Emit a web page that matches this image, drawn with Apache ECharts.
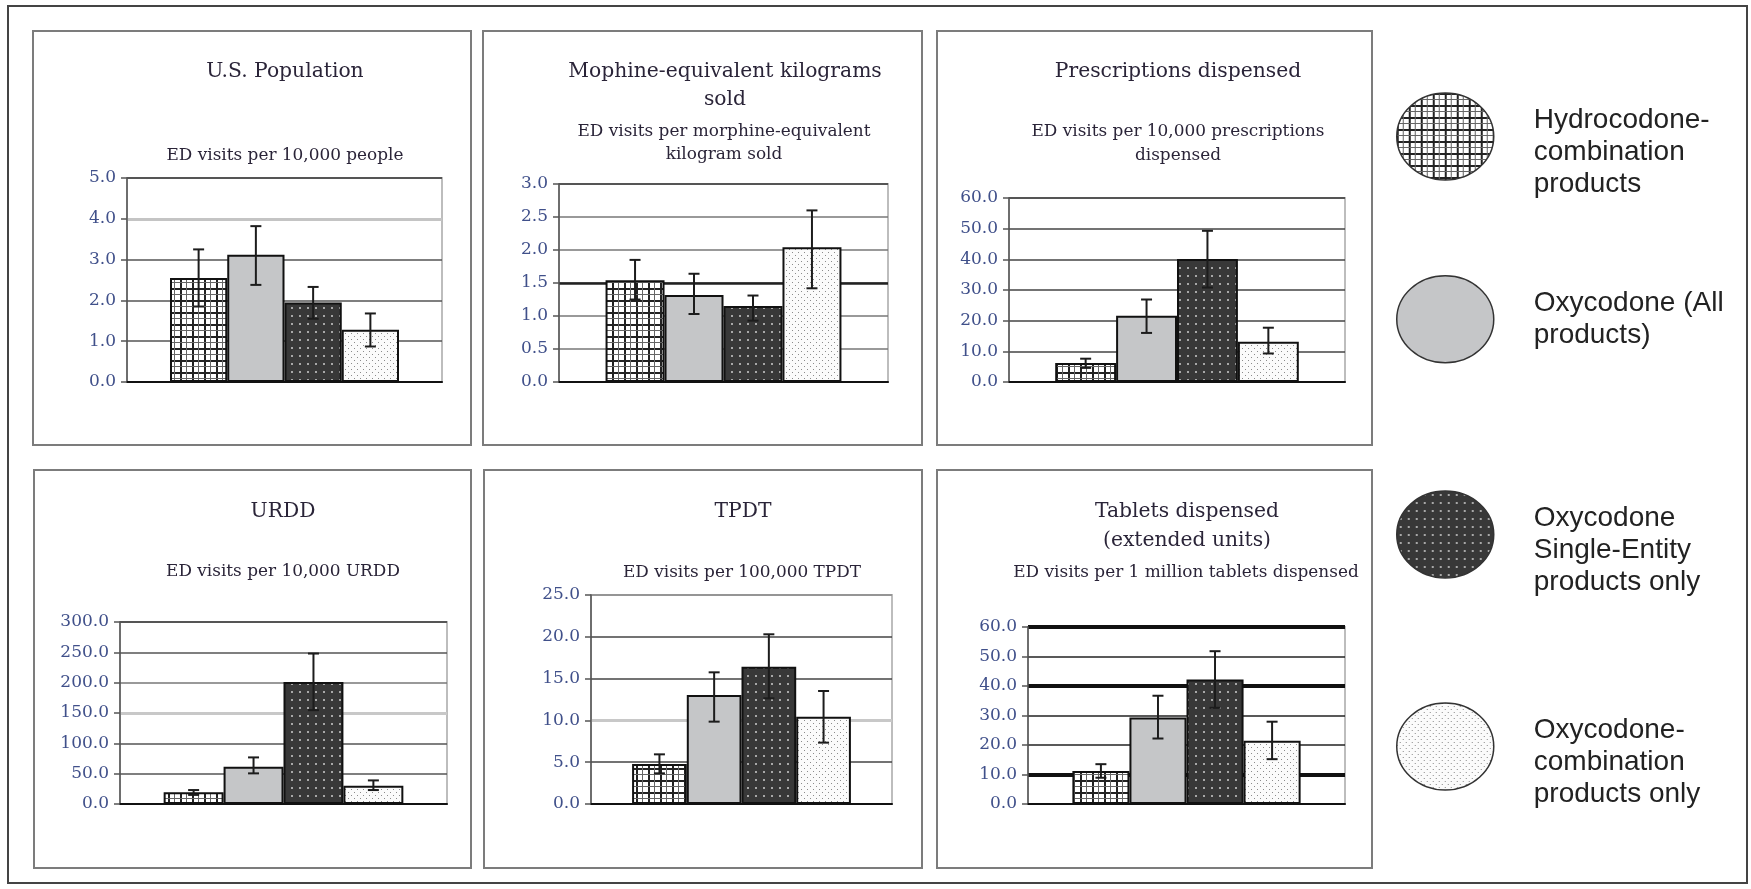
<!DOCTYPE html>
<html>
<head>
<meta charset="utf-8">
<script src="https://cdn.jsdelivr.net/npm/echarts@6/dist/echarts.min.js"></script>
<style>html,body{margin:0;padding:0;background:#fff}#c{width:1751px;height:889px}</style>
</head>
<body>
<div id="c"></div>
<script>
// ---------------- DATA ----------------
const seriesNames = [
  'Hydrocodone-combination products',
  'Oxycodone (All products)',
  'Oxycodone Single-Entity products only',
  'Oxycodone-combination products only'
];
const legendLabels = [
  'Hydrocodone-\ncombination\nproducts',
  'Oxycodone (All\nproducts)',
  'Oxycodone\nSingle-Entity\nproducts only',
  'Oxycodone-\ncombination\nproducts only'
];
const categories = [''];
const panelTitles = [
  'U.S. Population',
  'Mophine-equivalent kilograms\nsold',
  'Prescriptions dispensed',
  'URDD',
  'TPDT',
  'Tablets dispensed\n(extended units)'
];
const panelSubtitles = [
  'ED visits per 10,000 people',
  'ED visits per morphine-equivalent\nkilogram sold',
  'ED visits per 10,000 prescriptions\ndispensed',
  'ED visits per 10,000 URDD',
  'ED visits per 100,000 TPDT',
  'ED visits per 1 million tablets dispensed'
];

// U.S. Population
const popValues = [2.55, 3.12, 1.95, 1.28];
const popLow    = [1.85, 2.38, 1.55, 0.87];
const popHigh   = [3.25, 3.82, 2.33, 1.68];
const popTicks  = ['0.0','1.0','2.0','3.0','4.0','5.0'];
// Morphine-equivalent kilograms sold
const mekValues = [1.54, 1.32, 1.15, 2.04];
const mekLow    = [1.25, 1.03, 0.93, 1.42];
const mekHigh   = [1.85, 1.64, 1.31, 2.60];
const mekTicks  = ['0.0','0.5','1.0','1.5','2.0','2.5','3.0'];
// Prescriptions dispensed
const rxValues = [6.2, 21.6, 40.1, 13.1];
const rxLow    = [4.6, 16.0, 30.8, 9.3];
const rxHigh   = [7.6, 26.9, 49.3, 17.7];
const rxTicks  = ['0.0','10.0','20.0','30.0','40.0','50.0','60.0'];
// URDD
const urddValues = [19.2, 61.4, 201.3, 30.2];
const urddLow    = [15.0, 50.5, 154.7, 23.0];
const urddHigh   = [23.0, 76.8, 248.0, 38.9];
const urddTicks  = ['0.0','50.0','100.0','150.0','200.0','250.0','300.0'];
// TPDT
const tpdtValues = [4.78, 13.04, 16.43, 10.45];
const tpdtLow    = [3.67, 9.85, 12.64, 7.34];
const tpdtHigh   = [5.94, 15.75, 20.3, 13.52];
const tpdtTicks  = ['0.0','5.0','10.0','15.0','20.0','25.0'];
// Tablets dispensed
const tabValues = [11.2, 29.3, 42.2, 21.4];
const tabLow    = [8.9, 22.2, 32.6, 15.2];
const tabHigh   = [13.5, 36.7, 51.8, 27.9];
const tabTicks  = ['0.0','10.0','20.0','30.0','40.0','50.0','60.0'];

const panelValues = [popValues, mekValues, rxValues, urddValues, tpdtValues, tabValues];
const panelLow    = [popLow, mekLow, rxLow, urddLow, tpdtLow, tabLow];
const panelHigh   = [popHigh, mekHigh, rxHigh, urddHigh, tpdtHigh, tabHigh];
const panelTicks  = [popTicks, mekTicks, rxTicks, urddTicks, tpdtTicks, tabTicks];

// ---------------- LAYOUT / STYLE ----------------
const gridRects = [
  {left:127,  top:178, width:315, height:204},
  {left:559,  top:184, width:329, height:198},
  {left:1009, top:198, width:336, height:184},
  {left:120,  top:622, width:327, height:182},
  {left:591,  top:595, width:301, height:209},
  {left:1028, top:627, width:317, height:177}
];
const catGaps = ['27.3%','28.3%','27.5%','26.7%','27.3%','28%'];
const panelBoxes = [
  [33,31,438,414],[483,31,439,414],[937,31,435,414],
  [34,470,437,398],[484,470,438,398],[937,470,435,398]
];
const titlePos = [
  {x:285,y:72,lh:28},{x:725,y:86,lh:28},{x:1178,y:72,lh:28},
  {x:283,y:512,lh:28},{x:743,y:512,lh:28},{x:1187,y:526.5,lh:29}
];
const subPos = [
  {x:285,y:156,lh:23},{x:724,y:143.5,lh:23},{x:1178,y:144,lh:24},
  {x:283,y:572,lh:23},{x:742,y:573,lh:23},{x:1186,y:573,lh:23}
];
const mainLineColors = [
  ['#333','#555','#555','#555','#555','#333'],
  ['#333','#777','#777','#777','#777','#777','#333'],
  ['#333','#444','#444','#444','#444','#444','#333'],
  ['#333','#555','#555','#555','#777','#555','#333'],
  ['#333','#444','#444','#444','#444','#888'],
  ['#222','#222','#222','#222','#222','#222','#222']
];
const T = 'rgba(0,0,0,0)';
const thickLineColors = [
  [T,T,T,T,'#c4c4c4',T],
  [T,T,T,'#222',T,T,T],
  [T],
  [T,T,T,'#c8c8c8',T,T,T],
  [T,T,'#c8c8c8',T,T,T],
  [T,'#111',T,T,'#111',T,'#111']
];
const thickWidths = [3,2.5,1,3,3,4];
const legendTops = [72.5, 275, 470.5, 682.5];
const legendShift = [true, false, true, true];

const serifFont = '"DejaVu Serif", "Liberation Serif", serif';
const titleColor = '#2a2438';
const tickColor = '#40508a';

// ---------------- PATTERNS ----------------
function makePattern(kind) {
  const c = document.createElement('canvas');
  const g = c.getContext('2d');
  if (kind === 0) {
    c.width = 12; c.height = 12;
    g.fillStyle = '#ffffff'; g.fillRect(0,0,12,12);
    g.fillStyle = '#222'; g.fillRect(0,0,12,2); g.fillRect(0,0,2,12);
    g.fillStyle = '#666'; g.fillRect(0,6,12,1); g.fillRect(6,0,1,12);
  } else if (kind === 2) {
    c.width = 8; c.height = 8;
    g.fillStyle = '#383838'; g.fillRect(0,0,8,8);
    g.fillStyle = '#a8a8a8'; g.fillRect(3,3,2,2);
  } else if (kind === 3) {
    c.width = 6; c.height = 6;
    g.fillStyle = '#fbfbfb'; g.fillRect(0,0,6,6);
    g.fillStyle = '#8c8c8c'; g.fillRect(0,0,1,1); g.fillRect(3,3,1,1);
  }
  return {image: c, repeat: 'repeat'};
}
const fills = [makePattern(0), '#c5c6c8', makePattern(2), makePattern(3)];

// ---------------- OPTION ----------------
function errRender(gap) {
  return function (params, api) {
    const cat = api.value(0), lo = api.value(1), hi = api.value(2), j = api.value(3);
    const pHi = api.coord([cat, hi]);
    const pLo = api.coord([cat, lo]);
    const band = api.size([1, 0])[0];
    const gw = band * (1 - gap);
    const bw = gw / 4;
    const x = pHi[0] - gw / 2 + (j + 0.5) * bw;
    const cap = 5.5;
    const st = {stroke: '#1c1c1c', lineWidth: 2};
    return {type: 'group', children: [
      {type: 'line', shape: {x1: x, y1: pHi[1], x2: x, y2: pLo[1]}, style: st},
      {type: 'line', shape: {x1: x - cap, y1: pHi[1], x2: x + cap, y2: pHi[1]}, style: st},
      {type: 'line', shape: {x1: x - cap, y1: pLo[1], x2: x + cap, y2: pLo[1]}, style: st}
    ]};
  };
}

const grid = [], xAxis = [], yAxis = [], series = [], graphic = [];

graphic.push({type:'rect', shape:{x:8,y:6,width:1739,height:877}, style:{fill:'none', stroke:'#444', lineWidth:2}, silent:true});

for (let i = 0; i < 6; i++) {
  const ticks = panelTicks[i];
  const min = parseFloat(ticks[0]);
  const max = parseFloat(ticks[ticks.length - 1]);
  const step = parseFloat(ticks[1]) - min;
  const r = gridRects[i];
  grid.push({left:r.left, top:r.top, width:r.width, height:r.height, containLabel:false, outerBoundsMode:'none',
    show:true, borderColor:'#bdbdbd', borderWidth:2, backgroundColor:'rgba(0,0,0,0)'});
  xAxis.push({gridIndex:i, type:'category', data:categories,
    axisLine:{show:true, lineStyle:{color:'#111', width:2}}, axisTick:{show:false}, axisLabel:{show:false}, splitLine:{show:false}});
  yAxis.push({gridIndex:i, type:'value', min:min, max:max, interval:step, position:'left',
    axisLine:{show:true, lineStyle:{color:'#555', width:1.5}},
    axisTick:{show:true, length:6, lineStyle:{color:'#555', width:1.5}},
    axisLabel:{margin:11, color:tickColor, fontFamily:serifFont, fontSize:17,
      formatter: function (v) { return ticks[Math.round((v - min) / step)]; }},
    splitLine:{show:true, lineStyle:{color:mainLineColors[i], width:1.5}}});
  yAxis.push({gridIndex:i, type:'value', min:min, max:max, interval:step, position:'left',
    axisLine:{show:false}, axisTick:{show:false}, axisLabel:{show:false},
    splitLine:{show:true, lineStyle:{color:thickLineColors[i], width:thickWidths[i]}}});
  for (let j = 0; j < 4; j++) {
    series.push({type:'bar', name:seriesNames[j], xAxisIndex:i, yAxisIndex:2*i,
      data:[panelValues[i][j]], barGap:'0%', barCategoryGap:catGaps[i],
      itemStyle:{color:fills[j], borderColor:'#111', borderWidth:2},
      emphasis:{disabled:true}, silent:true, z:2});
  }
  const errData = [];
  for (let j = 0; j < 4; j++) errData.push([0, panelLow[i][j], panelHigh[i][j], j]);
  series.push({type:'custom', name:'err' + i, xAxisIndex:i, yAxisIndex:2*i, data:errData,
    encode:{x:0, y:[1,2]}, renderItem:errRender(parseFloat(catGaps[i]) / 100), silent:true, z:5});

  const b = panelBoxes[i];
  graphic.push({type:'rect', shape:{x:b[0],y:b[1],width:b[2],height:b[3]}, style:{fill:'none', stroke:'#7c7c7c', lineWidth:2}, silent:true});
  graphic.push({type:'text', x:titlePos[i].x, y:titlePos[i].y, silent:true,
    style:{text:panelTitles[i], font:'20.3px ' + serifFont, fill:titleColor, align:'center', verticalAlign:'middle', lineHeight:titlePos[i].lh}});
  graphic.push({type:'text', x:subPos[i].x, y:subPos[i].y, silent:true,
    style:{text:panelSubtitles[i], font:'16.9px ' + serifFont, fill:titleColor, align:'center', verticalAlign:'middle', lineHeight:subPos[i].lh}});
}

const ellipseIcon = 'path://M50,0 A50,50 0 1 1 50,100 A50,50 0 1 1 50,0 Z';
const legend = seriesNames.map(function (n, j) {
  return {data:[n], orient:'vertical', left:1396, top:legendTops[j], padding:0,
    icon:ellipseIcon, itemWidth:97, itemHeight:87, symbolKeepAspect:false, selectedMode:false,
    itemStyle:{borderColor:'#333', borderWidth:1.5},
    formatter: function () { return (legendShift[j] ? '\n' : '') + legendLabels[j]; },
    textStyle:{fontFamily:'"Liberation Sans", Arial, sans-serif', fontSize:28, lineHeight:32, color:'#222', padding:[0,0,0,35]}};
});

const chart = echarts.init(document.getElementById('c'), null, {renderer:'canvas'});
chart.setOption({animation:false, backgroundColor:'#fff', grid, xAxis, yAxis, series, legend, graphic});
</script>
</body>
</html>
